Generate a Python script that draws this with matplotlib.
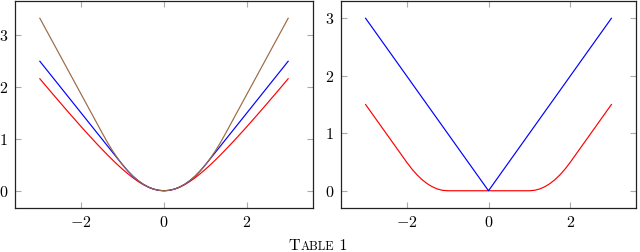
import matplotlib
matplotlib.use("Agg")
import matplotlib.pyplot as plt
from matplotlib.ticker import FuncFormatter, MultipleLocator

plt.rcParams['mathtext.fontset'] = 'cm'
plt.rcParams['font.family'] = ['cmr10', 'DejaVu Serif']

# x samples, 0 .. 3 (mirrored for negative side)
x_half = [0.0, 0.125, 0.25, 0.375, 0.5, 0.625, 0.75, 0.875, 1.0, 1.125, 1.25, 1.375, 1.5,
          1.625, 1.75, 1.875, 2.0, 2.125, 2.25, 2.375, 2.5, 2.625, 2.75, 2.875, 3.0]
x = [-v for v in x_half[::-1]] + x_half[1:]

def mirror(half):
    return half[::-1] + half[1:]

# left panel
left_brown = mirror([0.0, 0.0078, 0.031, 0.0703, 0.125, 0.195, 0.281, 0.383, 0.5, 0.633, 0.781,
                     0.945, 1.125, 1.309, 1.493, 1.676, 1.86, 2.044, 2.228, 2.411, 2.595, 2.779,
                     2.963, 3.146, 3.33])
left_blue = mirror([0.0, 0.0078, 0.031, 0.0703, 0.125, 0.195, 0.281, 0.383, 0.5, 0.625, 0.75,
                    0.875, 1.0, 1.125, 1.25, 1.375, 1.5, 1.625, 1.75, 1.875, 2.0, 2.125, 2.25,
                    2.375, 2.5])
left_red = mirror([0.0, 0.0078, 0.0308, 0.068, 0.118, 0.179, 0.25, 0.329, 0.414, 0.505, 0.601,
                   0.700, 0.803, 0.908, 1.016, 1.125, 1.236, 1.349, 1.462, 1.577, 1.693, 1.809,
                   1.926, 2.044, 2.162])

# right panel
right_blue = mirror(x_half)
right_red = mirror([0.0, 0.0, 0.0, 0.0, 0.0, 0.0, 0.0, 0.0, 0.0, 0.0078, 0.031, 0.0703, 0.125,
                    0.195, 0.281, 0.383, 0.5, 0.625, 0.75, 0.875, 1.0, 1.125, 1.25, 1.375, 1.5])

brown = '#9a6a45'
lw = 0.85

fig = plt.figure(figsize=(6.4, 2.52), dpi=100)
ax1 = fig.add_axes([15/640, 1-208/252, 298/640, 207/252])
ax2 = fig.add_axes([341/640, 1-208/252, 295/640, 207/252])

ax1.plot(x, left_red, color='red', lw=lw)
ax1.plot(x, left_blue, color='blue', lw=lw)
ax1.plot(x, left_brown, color=brown, lw=lw)
ax1.set_ylim(-0.333, 3.663)

ax2.plot(x, right_red, color='red', lw=lw)
ax2.plot(x, right_blue, color='blue', lw=lw)
ax2.set_ylim(-0.3, 3.3)

fmt = FuncFormatter(lambda v, p: r'$%d$' % round(v))
for ax in (ax1, ax2):
    ax.set_xlim(-3.6, 3.6)
    ax.xaxis.set_major_locator(MultipleLocator(2))
    ax.yaxis.set_major_locator(MultipleLocator(1))
    ax.xaxis.set_major_formatter(fmt)
    ax.yaxis.set_major_formatter(fmt)
    ax.tick_params(direction='in', top=True, right=True, length=4, width=0.8,
                   color='#aaaaaa', labelsize=11.5, pad=5)
    for s in ax.spines.values():
        s.set_linewidth(0.9)
        s.set_color('#222222')

# caption "Table 1" in small caps
r = fig.canvas.get_renderer()
pieces = [("T", 11.5), ("ABLE", 8.8), (" 1", 11.5)]
texts = [fig.text(0, 0, s, fontsize=fs, va='baseline') for s, fs in pieces]
widths = [t.get_window_extent(r).width for t in texts]
xpos = 318 - sum(widths) / 2
for t, w in zip(texts, widths):
    t.set_position((xpos / 640, 1 - 249.5 / 252))
    xpos += w

fig.savefig('out.png', dpi=100)
